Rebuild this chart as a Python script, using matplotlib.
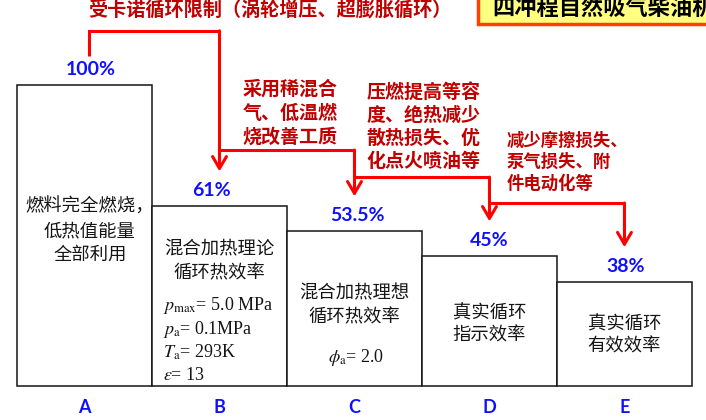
import matplotlib
matplotlib.use('Agg')
import matplotlib.pyplot as plt
from matplotlib.patches import Rectangle

plt.rcParams['font.family'] = ['Noto Sans CJK SC', 'DejaVu Sans']
plt.rcParams['mathtext.fontset'] = 'stix'

# ---- data ----
stages = ['A', 'B', 'C', 'D', 'E']
pct_labels = ['100%', '61%', '53.5%', '45%', '38%']
# heights as drawn in the scan (the drawing is not to scale)
bar_heights = [100, 59.8, 51.5, 43.2, 34.6]
bar_texts = ['燃料完全燃烧，\n低热值能量\n全部利用',
             '混合加热理论\n循环热效率',
             '混合加热理想\n循环热效率',
             '真实循环\n指示效率',
             '真实循环\n有效效率']
b_params = [r'$p_{\rm max}$= 5.0 MPa', r'$p_{\rm a}$= 0.1MPa',
            r'$T_{\rm a}$= 293K', r'$\varepsilon$= 13']
c_param = r'$\phi_{\rm a}$= 2.0'
measures = ['受卡诺循环限制（涡轮增压、超膨胀循环）',
            '采用稀混合\n气、低温燃\n烧改善工质',
            '压燃提高等容\n度、绝热减少\n散热损失、优\n化点火喷油等',
            '减少摩擦损失、\n泵气损失、附\n件电动化等']
title = '四冲程自然吸气柴油机'

# ---- layout ----
text_pos = [(0.04, 51.5), (0, 41.3), (0, 26.7), (0, 20.3), (0, 16.7)]
text_ls = [1.42, 1.42, 1.42, 1.28, 1.3]
pct_dx = [0.05, -0.06, 0.02, 0.0, 0.01]
route_y = [118, 78.4, 69.4, 60.8]
measure_pos = [(0.03, 124.9), (1.17, 90.7), (2.09, 86.2), (3.13, 74.4)]
measure_size = [13.8, 13.7, 13.7, 12.5]
measure_ls = [1.2, 1.32, 1.27, 1.25]

BLUE = '#1010ff'
DARKRED = '#c00000'
RED = '#ff0000'
INK = '#151515'

fig = plt.figure(figsize=(7.06, 4.2), dpi=100)
ax = fig.add_axes([0, 0, 1, 1])
ax.set_xlim(-0.626, 4.604)
ax.set_ylim(-11.3, 128.24)
ax.axis('off')

x = list(range(len(stages)))
ax.bar(x, bar_heights, width=1.0, color='white', edgecolor=INK, linewidth=1.1, zorder=2)

for i in x:
    ax.text(i + pct_dx[i], bar_heights[i] + 5, pct_labels[i], color=BLUE, fontsize=14,
            fontweight='bold', family=['Lato', 'DejaVu Sans'], ha='center', va='center')
    ax.text(i, -7.3, stages[i], color=BLUE, fontsize=13, fontweight='bold',
            family=['Lato', 'DejaVu Sans'], ha='center', va='center')
    tx, ty = text_pos[i]
    ax.text(i + tx, ty, bar_texts[i], color=INK, fontsize=13.2, ha='center',
            va='center', linespacing=text_ls[i], zorder=3)

# parameters inside B and C
for k, s in enumerate(b_params):
    ax.text(1 - 0.42, 26.6 - k * 7.7, s, color=INK, fontsize=13,
            family=['Liberation Serif', 'DejaVu Serif'], ha='left', va='center', zorder=3)
ax.text(2.01, 9.3, c_param, color=INK, fontsize=13,
        family=['Liberation Serif', 'DejaVu Serif'], ha='center', va='center', zorder=3)

# red staircase of arrows
for k in range(1, len(stages)):
    x0, x1 = x[k - 1], x[k]
    if k == 1:
        x0 = x0 + 0.03
        start = bar_heights[0] + 9.5
    else:
        start = route_y[k - 1]
    lvl = route_y[k - 1]
    ax.plot([x0, x0, x1], [start, lvl, lvl], color=RED, lw=2.2,
            solid_joinstyle='miter', solid_capstyle='butt', zorder=4)
    ax.annotate('', xy=(x1, bar_heights[k] + 11.5), xytext=(x1, lvl),
                arrowprops=dict(arrowstyle='->,head_length=0.85,head_width=0.5',
                                color=RED, lw=2.2, shrinkA=0, shrinkB=0,
                                mutation_scale=10), zorder=4)

for (mx, my), s, fs, ls in zip(measure_pos, measures, measure_size, measure_ls):
    ax.text(mx, my, s, color=DARKRED, fontsize=fs, fontweight='bold',
            ha='left', va='center', linespacing=ls)

# title box, cut by the right and top edges as in the source slide
fig.patches.append(Rectangle((478 / 706, 396 / 420), 0.5, 0.2, transform=fig.transFigure,
                             facecolor='#ffff80', edgecolor='#ff4000', linewidth=2.5))
fig.text(492 / 706, 412 / 420, title, fontsize=16, fontweight='bold', color='black',
         ha='left', va='center')

fig.savefig('out.png', dpi=100)
